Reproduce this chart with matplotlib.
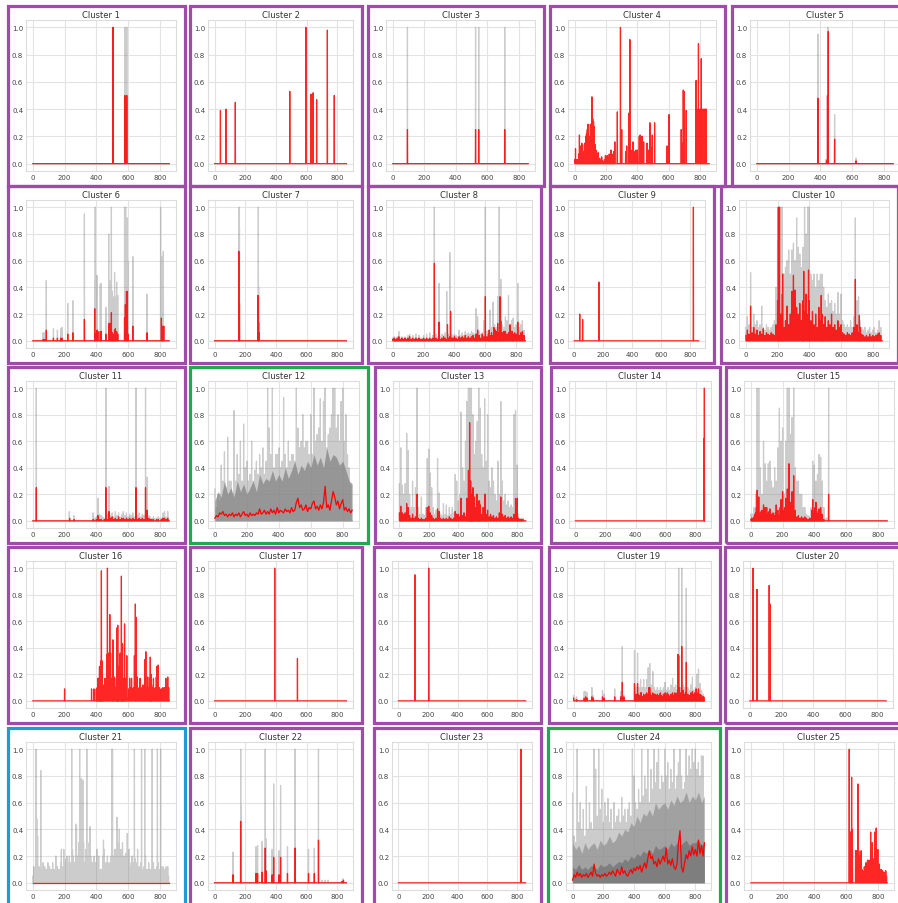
import numpy as np
import matplotlib
matplotlib.use("Agg")
import matplotlib.pyplot as plt
from matplotlib.patches import Rectangle

N = 860  # length of every series

# ---- data: (x, height) spikes, runs are (start, step, values) ----
grey_01 = [(505, 1.0), (580, 1.0), (592, 1.0)]
red_01 = [(505, 1.0), (580, 0.5), (592, 0.5)]

red_02 = [(38, 0.39), (75, 0.40), (135, 0.45), (490, 0.53), (595, 1.0),
          (628, 0.51), (642, 0.52), (665, 0.47), (735, 0.98), (780, 0.50)]

grey_03 = [(93, 1.0), (525, 1.0), (545, 1.0), (710, 1.0)]
red_03 = [(93, 0.25), (525, 0.25), (545, 0.25), (710, 0.25)]

red_04 = [(272, 0.38), (292, 1.0), (300, 0.25), (325, 0.09), (332, 0.13), (345, 0.37),
          (352, 0.91), (360, 0.1), (372, 0.16), (378, 0.09), (392, 0.1), (400, 0.1),
          (412, 0.2), (418, 0.21), (425, 0.2), (432, 0.2), (440, 0.16), (462, 0.15),
          (472, 0.1), (480, 0.3), (488, 0.12), (495, 0.21), (510, 0.3), (590, 0.13),
          (602, 0.36), (680, 0.25), (685, 0.15), (693, 0.54), (700, 0.53), (712, 0.39),
          (775, 0.61), (782, 0.4), (790, 0.88), (800, 0.4), (808, 0.77), (815, 0.4),
          (823, 0.4), (830, 0.4), (835, 0.4), (840, 0.4)]
red_04_a = [0.03, 0.11, 0.03, 0.03, 0.02, 0.07, 0.21, 0.13, 0.06, 0.15, 0.14, 0.09, 0.07,
            0.15, 0.2, 0.22, 0.25, 0.29, 0.2, 0.12, 0.29, 0.15, 0.49, 0.33, 0.31, 0.27,
            0.14, 0.1, 0.08, 0.05, 0.08, 0.03, 0.04]
red_04_b = [0.03, 0.02, 0.05, 0.02, 0.01, 0.03, 0.06, 0.05, 0.06, 0.04, 0.07, 0.05, 0.1,
            0.06, 0.07, 0.09, 0.16]

grey_05 = [(385, 0.95), (435, 0.03), (448, 1.0), (490, 0.36), (625, 0.04)]
red_05 = [(385, 0.48), (440, 0.02), (445, 0.5), (450, 0.97), (490, 0.18), (625, 0.02)]

grey_06 = [(65, 0.06), (72, 0.06), (85, 0.45), (130, 0.09), (155, 0.08), (175, 0.09),
           (183, 0.10), (220, 0.28), (252, 0.30), (325, 0.95), (390, 0.45), (393, 1.0),
           (405, 0.49), (425, 0.42), (430, 0.43), (460, 0.25), (478, 0.8), (485, 0.45),
           (495, 1.0), (500, 0.37), (505, 0.33), (515, 0.51), (525, 0.33), (528, 0.44),
           (535, 0.34), (578, 1.0), (585, 1.0), (590, 0.73), (595, 0.92), (598, 0.6),
           (630, 0.63), (720, 0.35), (805, 1.0), (812, 0.63), (822, 0.67)]
red_06 = [(65, 0.01), (75, 0.01), (85, 0.08), (130, 0.02), (155, 0.02), (175, 0.02),
          (183, 0.02), (220, 0.05), (252, 0.06), (325, 0.16), (390, 0.24), (395, 0.05),
          (405, 0.08), (410, 0.07), (425, 0.07), (430, 0.07), (460, 0.05), (480, 0.13),
          (485, 0.13), (495, 0.21), (500, 0.06), (505, 0.05), (515, 0.08), (520, 0.09),
          (528, 0.07), (535, 0.05), (578, 0.17), (583, 0.27), (590, 0.37), (595, 0.37),
          (600, 0.05), (630, 0.11), (720, 0.06), (810, 0.17), (815, 0.11), (825, 0.11)]

grey_07 = [(160, 1.0), (162, 0.84), (285, 1.0), (287, 0.4)]
red_07 = [(158, 0.67), (162, 0.28), (283, 0.34), (287, 0.14), (290, 0.06)]

grey_08_run = [0.02, 0.03, 0.02, 0.03, 0.07, 0.02, 0.03, 0.02, 0.03, 0.02,
               0.04, 0.05, 0.02, 0.04, 0.02, 0.05, 0.02, 0.04, 0.02, 0.02,
               0.04, 0.02, 0.05, 0.02, 0.06, 0.02, 0.04, 1.0, 0.05, 0.03,
               0.43, 0.03, 0.05, 0.04, 0.06, 0.37, 0.05, 0.66, 0.05, 0.04,
               0.05, 0.04, 0.03, 0.08, 0.04, 0.06, 0.04, 0.07, 0.05, 0.06,
               0.05, 0.07, 0.06, 0.05, 0.24, 0.18, 0.07, 0.05, 0.06, 0.15,
               1.0, 0.07, 0.08, 0.23, 0.1, 0.29, 0.12, 0.1, 0.33, 1.0,
               0.46, 0.12, 0.1, 0.18, 0.15, 0.34, 0.12, 0.15, 0.17, 0.1,
               0.12, 0.43, 0.1, 0.12, 0.15, 0.08]
red_08_run = [0.01, 0.02, 0.01, 0.02, 0.03, 0.01, 0.02, 0.01, 0.02, 0.01,
              0.02, 0.03, 0.01, 0.02, 0.01, 0.02, 0.01, 0.02, 0.01, 0.01,
              0.02, 0.01, 0.02, 0.01, 0.02, 0.01, 0.02, 0.03, 0.02, 0.01,
              0.02, 0.01, 0.02, 0.03, 0.02, 0.01, 0.02, 0.03, 0.02, 0.02,
              0.03, 0.02, 0.01, 0.03, 0.02, 0.03, 0.02, 0.04, 0.02, 0.03,
              0.02, 0.03, 0.04, 0.02, 0.05, 0.03, 0.04, 0.02, 0.05, 0.03,
              0.04, 0.03, 0.05, 0.04, 0.06, 0.04, 0.05, 0.07, 0.05, 0.06,
              0.04, 0.06, 0.05, 0.07, 0.05, 0.06, 0.04, 0.07, 0.05, 0.06,
              0.05, 0.06, 0.04, 0.05, 0.06, 0.04]
red_08 = [(270, 0.58), (300, 0.14), (355, 0.12), (375, 0.22), (545, 0.05), (550, 0.08),
          (600, 0.33), (625, 0.08), (655, 0.10), (665, 0.08), (680, 0.13), (695, 0.33),
          (700, 0.15), (720, 0.07), (740, 0.05), (760, 0.12), (775, 0.07), (790, 0.05),
          (810, 0.14), (830, 0.06), (840, 0.07)]

red_09 = [(38, 0.20), (58, 0.16), (170, 0.44), (822, 1.0)]

grey_10_run = [0.1, 0.18, 0.12, 0.15, 0.1, 0.2, 0.12, 0.15, 0.1, 0.12,
               0.26, 0.1, 0.08, 0.12, 0.1, 0.08, 0.1, 0.12, 0.15, 0.4,
               0.75, 1.0, 0.6, 1.0, 0.5, 0.55, 0.6, 0.68, 0.5, 0.68,
               0.73, 0.6, 0.92, 0.7, 0.65, 0.55, 0.7, 1.0, 0.8, 1.0,
               0.9, 0.5, 0.45, 0.5, 0.4, 0.5, 0.45, 0.5, 0.5, 0.4,
               0.3, 0.25, 0.35, 0.28, 0.3, 0.22, 0.28, 0.2, 0.36, 0.2,
               0.35, 0.15, 0.12, 0.1, 0.12, 0.1, 0.15, 0.1, 0.18, 0.92,
               0.3, 0.33, 0.15, 0.1, 0.08, 0.1, 0.06, 0.08, 0.1, 0.06,
               0.08, 0.1, 0.06, 0.08, 0.15, 0.1]
grey_10 = [(30, 0.51), (205, 1.0), (215, 1.0), (225, 1.0), (370, 1.0), (395, 1.0), (400, 1.0)]
red_10_run = [0.04, 0.08, 0.05, 0.09, 0.06, 0.1, 0.05, 0.08, 0.04, 0.07,
              0.05, 0.09, 0.04, 0.06, 0.05, 0.04, 0.06, 0.05, 0.04, 0.12,
              0.3, 0.5, 0.2, 0.35, 0.1, 0.15, 0.26, 0.12, 0.2, 0.15,
              0.3, 0.18, 0.25, 0.2, 0.28, 0.15, 0.3, 0.22, 0.35, 0.2,
              0.3, 0.15, 0.22, 0.12, 0.2, 0.1, 0.25, 0.15, 0.2, 0.12,
              0.18, 0.1, 0.15, 0.12, 0.2, 0.1, 0.12, 0.08, 0.15, 0.1,
              0.12, 0.06, 0.05, 0.04, 0.06, 0.05, 0.04, 0.06, 0.1, 0.08,
              0.12, 0.06, 0.1, 0.05, 0.04, 0.03, 0.04, 0.03, 0.05, 0.03,
              0.04, 0.03, 0.04, 0.05, 0.06, 0.04]
red_10 = [(30, 0.26), (205, 1.0), (212, 1.0), (232, 0.5), (290, 0.37), (300, 0.49),
          (310, 0.38), (365, 0.52), (395, 0.53), (475, 0.34), (690, 0.46), (715, 0.19)]

grey_11 = [(22, 1.0), (230, 0.07), (258, 0.04)]
grey_11_run = [0.06, 0.02, 0.03, 0.17, 0.05, 0.04, 0.03, 0.02, 1.0, 0.05, 0.26, 0.04,
               0.06, 0.03, 0.07, 0.04, 0.06, 0.03, 0.05, 0.07, 0.04, 0.06, 0.03, 0.05,
               0.04, 0.06, 0.03, 1.0, 0.04, 0.06, 0.03, 0.05, 0.04, 1.0, 0.33, 0.04,
               0.03, 0.02, 0.03, 0.02, 0.02, 0.03, 0.02, 0.02, 0.06, 0.07, 0.03, 0.07, 0.02]
red_11 = [(22, 0.25), (232, 0.02), (260, 0.01)]
red_11_run = [0.01, 0.0, 0.01, 0.04, 0.01, 0.01, 0.0, 0.01, 0.25, 0.01, 0.07, 0.02,
              0.03, 0.01, 0.02, 0.01, 0.03, 0.01, 0.02, 0.02, 0.01, 0.02, 0.01, 0.02,
              0.01, 0.02, 0.01, 0.25, 0.01, 0.02, 0.01, 0.02, 0.01, 0.25, 0.08, 0.02,
              0.01, 0.01, 0.01, 0.0, 0.01, 0.01, 0.0, 0.01, 0.02, 0.02, 0.01, 0.02, 0.01]

band_12 = [0.15, 0.22, 0.18, 0.3, 0.2, 0.25, 0.18, 0.3, 0.22, 0.28,
           0.2, 0.25, 0.3, 0.22, 0.35, 0.28, 0.32, 0.3, 0.38, 0.3,
           0.35, 0.3, 0.4, 0.32, 0.38, 0.45, 0.35, 0.42, 0.38, 0.45,
           0.4, 0.5, 0.42, 0.48, 0.4, 0.55, 0.45, 0.5, 0.48, 0.42,
           0.45, 0.38, 0.3, 0.28]
grey_12_run = [0.24, 0.1, 0.2, 0.15, 0.42, 0.3, 0.52, 0.25, 0.63, 0.3,
               0.3, 0.2, 0.83, 0.3, 0.5, 0.35, 0.6, 0.3, 0.73, 0.4,
               0.45, 0.3, 0.35, 0.6, 0.3, 0.38, 0.45, 0.35, 0.5, 0.4,
               0.55, 0.35, 0.45, 1.0, 0.7, 0.5, 1.0, 0.4, 0.5, 0.5,
               0.55, 0.4, 0.45, 0.93, 0.5, 0.4, 0.6, 0.45, 0.5, 0.5,
               0.45, 1.0, 0.7, 0.55, 0.6, 0.8, 0.55, 0.6, 0.6, 0.5,
               0.8, 0.5, 1.0, 0.6, 0.65, 0.7, 0.92, 0.6, 0.9, 1.0,
               0.55, 0.65, 0.7, 0.8, 1.0, 1.0, 0.7, 0.8, 0.6, 0.9,
               1.0, 0.6, 0.8, 0.5, 0.4, 0.27]
red_line_12 = [0.02, 0.04, 0.03, 0.06, 0.05, 0.07, 0.04, 0.05, 0.03, 0.05,
               0.04, 0.06, 0.03, 0.05, 0.04, 0.06, 0.03, 0.05, 0.07, 0.04,
               0.05, 0.03, 0.06, 0.04, 0.05, 0.04, 0.06, 0.05, 0.09, 0.05,
               0.06, 0.08, 0.05, 0.07, 0.05, 0.09, 0.06, 0.08, 0.05, 0.1,
               0.06, 0.08, 0.07, 0.06, 0.09, 0.07, 0.08, 0.06, 0.1, 0.07,
               0.08, 0.14, 0.17, 0.1, 0.12, 0.08, 0.09, 0.12, 0.07, 0.1,
               0.09, 0.13, 0.15, 0.09, 0.11, 0.08, 0.12, 0.09, 0.14, 0.26,
               0.1, 0.12, 0.08, 0.15, 0.22, 0.18, 0.12, 0.15, 0.09, 0.13,
               0.16, 0.08, 0.1, 0.07, 0.09, 0.06, 0.08]

grey_13_run = [0.28, 0.55, 0.27, 0.2, 0.28, 0.66, 0.53, 0.2, 0.1, 0.3,
               0.1, 0.25, 1.0, 0.1, 0.05, 0.18, 0.05, 0.04, 0.1, 0.47,
               0.54, 0.36, 0.25, 0.1, 0.05, 0.08, 0.47, 0.21, 0.05, 0.04,
               0.13, 0.05, 0.12, 0.04, 0.1, 0.05, 0.1, 0.06, 0.35, 0.3,
               0.15, 0.2, 0.82, 0.4, 0.3, 0.6, 0.9, 1.0, 1.0, 1.0,
               0.8, 0.5, 0.6, 0.75, 1.0, 0.85, 0.5, 0.4, 0.92, 0.45,
               0.8, 0.3, 0.25, 0.4, 0.3, 0.2, 0.15, 0.45, 0.2, 0.9,
               0.3, 0.15, 0.2, 0.12, 0.15, 0.1, 0.12, 0.1, 0.8, 0.83,
               0.42, 0.05, 0.02, 0.02, 0.02, 0.0]
red_13_run = [0.06, 0.11, 0.06, 0.05, 0.06, 0.13, 0.1, 0.04, 0.02, 0.05,
              0.02, 0.03, 0.2, 0.02, 0.01, 0.02, 0.01, 0.01, 0.02, 0.1,
              0.11, 0.06, 0.04, 0.02, 0.01, 0.02, 0.09, 0.07, 0.02, 0.01,
              0.02, 0.01, 0.02, 0.01, 0.03, 0.02, 0.01, 0.02, 0.07, 0.05,
              0.05, 0.03, 0.17, 0.04, 0.06, 0.03, 0.17, 0.38, 0.3, 0.2,
              0.25, 0.18, 0.1, 0.2, 0.15, 0.12, 0.05, 0.1, 0.2, 0.05,
              0.08, 0.03, 0.05, 0.03, 0.04, 0.02, 0.03, 0.02, 0.06, 0.18,
              0.05, 0.03, 0.04, 0.02, 0.03, 0.02, 0.03, 0.02, 0.05, 0.17,
              0.1, 0.02, 0.01, 0.01, 0.01, 0.0]
red_13 = [(478, 0.74), (485, 0.3), (495, 0.15), (505, 0.12), (525, 0.2), (545, 0.15),
          (585, 0.2), (802, 0.17)]

red_14 = [(855, 0.62), (858, 1.0)]

grey_15_run = [0.05, 0.05, 0.1, 0.2, 1.0, 1.0, 0.4, 0.2, 0.6, 0.43,
               0.3, 0.43, 0.45, 0.3, 0.25, 0.4, 0.3, 0.55, 0.85, 0.6,
               0.7, 0.2, 0.6, 1.0, 1.0, 0.65, 0.78, 1.0, 0.4, 0.3,
               0.3, 0.2, 0.2, 0.1, 0.1, 0.05, 0.04, 0.03, 0.1, 0.45,
               0.42, 0.3, 0.35, 0.5, 0.48, 0.3, 0.1, 0.02, 0.02, 1.0]
red_15_run = [0.01, 0.01, 0.03, 0.06, 0.23, 0.18, 0.06, 0.08, 0.12, 0.1,
              0.1, 0.06, 0.09, 0.05, 0.06, 0.04, 0.12, 0.08, 0.04, 0.16,
              0.22, 0.08, 0.17, 0.24, 0.43, 0.14, 0.22, 0.34, 0.08, 0.03,
              0.04, 0.02, 0.03, 0.02, 0.03, 0.02, 0.01, 0.02, 0.02, 0.16,
              0.07, 0.14, 0.05, 0.09, 0.1, 0.05, 0.01, 0.0, 0.0, 0.2]
red_15_run_b = [0.02, 0.02, 0.05, 0.1, 0.12, 0.05, 0.07, 0.05, 0.08, 0.06,
                0.05, 0.07, 0.04, 0.05, 0.03, 0.06, 0.05, 0.03, 0.1, 0.12,
                0.06, 0.1, 0.15, 0.2, 0.12, 0.1, 0.15, 0.05, 0.02, 0.02,
                0.01, 0.02, 0.01, 0.01, 0.01, 0.01, 0.01, 0.01, 0.08, 0.05,
                0.1, 0.04, 0.07, 0.06, 0.03, 0.01, 0.0, 0.0]

red_16 = [(200, 0.09), (370, 0.09), (385, 0.09), (410, 0.17), (420, 0.26), (428, 0.3),
          (432, 0.98), (438, 0.3), (465, 0.35), (470, 1.0), (478, 0.36), (485, 0.65),
          (490, 0.36), (505, 0.46), (530, 0.55), (535, 0.57), (540, 0.26), (550, 0.36),
          (558, 0.94), (565, 0.43), (578, 0.58), (592, 0.34), (640, 0.34), (646, 0.73),
          (650, 0.63), (705, 0.31), (712, 0.37), (740, 0.33), (746, 0.2), (782, 0.26),
          (790, 0.27), (850, 0.18)]
red_16_run = [0.09, 0.1, 0.17, 0.12, 0.1, 0.15, 0.09, 0.1, 0.12, 0.17,
              0.1, 0.09, 0.17, 0.18, 0.1, 0.09, 0.17, 0.1, 0.12, 0.18,
              0.1, 0.17, 0.09, 0.1, 0.18, 0.17, 0.1, 0.12, 0.17, 0.09,
              0.1, 0.17, 0.09, 0.02, 0.09, 0.17, 0.1, 0.17, 0.09, 0.1,
              0.17, 0.09, 0.1, 0.18, 0.09, 0.1, 0.17, 0.09, 0.1, 0.12,
              0.09, 0.17, 0.1, 0.09, 0.18, 0.1, 0.17, 0.09, 0.12, 0.1,
              0.17, 0.09, 0.1, 0.18, 0.09, 0.17, 0.1, 0.02, 0.09, 0.09,
              0.1, 0.09, 0.1, 0.17, 0.1, 0.18, 0.1]

red_17 = [(392, 1.0), (540, 0.32)]

red_18 = [(112, 0.95), (205, 1.0)]

grey_19_run = [0.04, 0.02, 0.03, 0.0, 0.0, 0.0, 0.0, 0.07, 0.07, 0.06,
               0.0, 0.0, 0.1, 0.04, 0.0, 0.0, 0.0, 0.0, 0.0, 0.08,
               0.05, 0.0, 0.0, 0.0, 0.0, 0.0, 0.0, 0.09, 0.0, 0.0,
               0.0, 0.07, 0.41, 0.04, 0.0, 0.0, 0.0, 0.0, 0.0, 0.0,
               0.38, 0.1, 0.36, 0.1, 0.16, 0.1, 0.16, 0.1, 0.16, 0.25,
               0.28, 0.12, 0.22, 0.1, 0.08, 0.1, 0.08, 0.1, 0.08, 0.1,
               0.14, 0.08, 0.1, 0.08, 0.12, 0.17, 0.1, 0.12, 0.08, 1.0,
               0.1, 1.0, 0.12, 0.1, 0.85, 0.1, 0.08, 0.12, 0.18, 0.08,
               0.1, 0.2, 0.24, 0.13, 0.08, 0.05]
red_19_run = [0.02, 0.0, 0.01, 0.0, 0.0, 0.0, 0.0, 0.02, 0.03, 0.02,
              0.0, 0.0, 0.03, 0.02, 0.0, 0.0, 0.0, 0.0, 0.0, 0.03,
              0.02, 0.0, 0.0, 0.0, 0.0, 0.0, 0.0, 0.03, 0.0, 0.0,
              0.0, 0.03, 0.14, 0.03, 0.0, 0.0, 0.0, 0.0, 0.0, 0.0,
              0.13, 0.05, 0.13, 0.04, 0.06, 0.03, 0.05, 0.04, 0.06, 0.05,
              0.1, 0.04, 0.06, 0.05, 0.03, 0.05, 0.04, 0.06, 0.03, 0.05,
              0.06, 0.04, 0.05, 0.03, 0.05, 0.06, 0.04, 0.05, 0.06, 0.34,
              0.06, 0.41, 0.08, 0.05, 0.29, 0.05, 0.04, 0.06, 0.07, 0.05,
              0.04, 0.06, 0.09, 0.05, 0.04, 0.03]
red_19_run_b = [0.04, 0.03, 0.05, 0.04, 0.06, 0.03, 0.04, 0.05, 0.03, 0.1,
                0.05, 0.04, 0.03, 0.05, 0.04, 0.03, 0.05, 0.04, 0.03, 0.05,
                0.04, 0.06, 0.04, 0.03, 0.05, 0.04, 0.06, 0.05, 0.35, 0.1,
                0.05, 0.04, 0.05, 0.06, 0.04, 0.03, 0.04, 0.05, 0.03, 0.06,
                0.09, 0.05, 0.04, 0.03, 0.02, 0.03]

red_20 = [(20, 1.0), (45, 0.84), (122, 0.87), (128, 0.73)]

grey_21 = [(20, 1.0), (25, 0.48), (30, 0.35), (50, 0.84), (180, 0.25), (210, 0.18),
           (245, 1.0), (270, 0.44), (275, 0.43), (295, 1.0), (305, 0.78), (315, 0.77),
           (340, 1.0), (360, 0.42), (445, 0.32), (498, 1.0), (502, 1.0), (530, 0.49),
           (545, 0.4), (595, 0.37), (640, 1.0), (685, 1.0), (705, 1.0), (752, 1.0),
           (785, 1.0), (805, 1.0)]
grey_21_run = [0.05, 0.08, 0.1, 0.06, 0.1, 0.08, 0.05, 0.08, 0.06, 0.1,
               0.12, 0.06, 0.05, 0.03, 0.02, 0.03, 0.02, 0.05, 0.1, 0.08,
               0.12, 0.18, 0.15, 0.2, 0.12, 0.25, 0.15, 0.22, 0.2, 0.3,
               0.25, 0.2, 0.3, 0.15, 0.25, 0.12, 0.1, 0.08, 0.1, 0.05,
               0.08, 0.06, 0.05, 0.1, 0.2, 0.25, 0.15, 0.2, 0.15, 0.2,
               0.3, 0.2, 0.25, 0.15, 0.2, 0.1, 0.15, 0.12, 0.2, 0.15,
               0.2, 0.12, 0.15, 0.1, 0.2, 0.15, 0.25, 0.12, 0.15, 0.1,
               0.12, 0.2, 0.1, 0.15, 0.1, 0.12, 0.15, 0.1, 0.12, 0.15,
               0.1, 0.12, 0.12, 0.1, 0.12, 0.12]

grey_22 = [(120, 0.23), (170, 1.0), (172, 0.58), (270, 0.27), (280, 0.28), (310, 0.31),
           (330, 1.0), (335, 0.33), (375, 0.25), (385, 0.74), (420, 0.24), (430, 0.73),
           (475, 0.27), (525, 1.0), (612, 0.25), (650, 0.26), (677, 1.0), (700, 0.02),
           (720, 0.02), (740, 0.02), (835, 0.03)]
red_22 = [(120, 0.06), (170, 0.46), (270, 0.07), (280, 0.07), (310, 0.08), (330, 0.26),
          (335, 0.09), (375, 0.06), (385, 0.19), (420, 0.06), (430, 0.19), (475, 0.07),
          (525, 0.26), (612, 0.07), (650, 0.07), (677, 0.32), (830, 0.01), (840, 0.02)]

red_23 = [(827, 1.0)]

band_24 = [0.3, 0.25, 0.28, 0.22, 0.3, 0.25, 0.28, 0.3, 0.25, 0.32,
           0.28, 0.3, 0.35, 0.3, 0.32, 0.38, 0.35, 0.4, 0.38, 0.45,
           0.42, 0.5, 0.45, 0.52, 0.5, 0.55, 0.5, 0.6, 0.55, 0.58,
           0.6, 0.55, 0.62, 0.58, 0.65, 0.6, 0.62, 0.68, 0.6, 0.65,
           0.62, 0.68, 0.6, 0.65]
band_24_dark = [0.12, 0.1, 0.14, 0.1, 0.12, 0.1, 0.13, 0.12, 0.1, 0.14,
                0.12, 0.13, 0.15, 0.12, 0.14, 0.16, 0.15, 0.18, 0.16, 0.2,
                0.18, 0.22, 0.2, 0.24, 0.22, 0.25, 0.22, 0.28, 0.25, 0.26,
                0.28, 0.25, 0.3, 0.27, 0.3, 0.28, 0.3, 0.32, 0.28, 0.3,
                0.3, 0.32, 0.28, 0.3]
grey_24_run = [0.67, 0.35, 0.3, 1.0, 0.45, 0.6, 0.4, 0.55, 0.35, 0.72,
               0.4, 0.6, 0.45, 0.4, 1.0, 0.85, 0.5, 1.0, 0.55, 0.7,
               0.45, 0.6, 0.5, 0.63, 0.45, 0.55, 0.4, 0.6, 0.45, 0.5,
               0.55, 0.45, 0.64, 0.5, 0.55, 0.45, 0.55, 0.6, 0.5, 1.0,
               0.8, 0.6, 0.55, 0.7, 0.6, 1.0, 0.65, 0.8, 0.7, 1.0,
               0.6, 0.85, 0.7, 1.0, 0.75, 0.9, 1.0, 0.7, 0.8, 0.75,
               1.0, 0.8, 0.9, 0.7, 0.85, 0.75, 1.0, 0.7, 0.8, 0.9,
               1.0, 0.8, 0.7, 0.75, 1.0, 0.8, 0.95, 0.85, 1.0, 0.9,
               1.0, 0.85, 0.9, 0.8, 0.95, 0.95]
red_line_24 = [0.02, 0.06, 0.04, 0.08, 0.05, 0.07, 0.04, 0.06, 0.05, 0.07,
               0.04, 0.06, 0.08, 0.05, 0.14, 0.07, 0.05, 0.06, 0.04, 0.06,
               0.05, 0.07, 0.05, 0.06, 0.08, 0.06, 0.09, 0.07, 0.05, 0.1,
               0.08, 0.06, 0.12, 0.07, 0.09, 0.06, 0.05, 0.08, 0.1, 0.07,
               0.11, 0.09, 0.12, 0.1, 0.13, 0.08, 0.12, 0.15, 0.11, 0.18,
               0.24, 0.18, 0.2, 0.14, 0.16, 0.12, 0.18, 0.14, 0.17, 0.2,
               0.16, 0.26, 0.14, 0.17, 0.13, 0.18, 0.12, 0.1, 0.14, 0.3,
               0.39, 0.12, 0.08, 0.15, 0.21, 0.18, 0.24, 0.2, 0.27, 0.21,
               0.25, 0.2, 0.32, 0.22, 0.28, 0.2, 0.3]

red_25_run = [1.0, 0.38, 0.38, 0.79, 0.4, 0.0, 0.0, 0.0, 0.24, 0.24,
              0.1, 0.74, 0.24, 0.2, 0.16, 0.24, 0.1, 0.06, 0.08, 0.12,
              0.06, 0.15, 0.1, 0.17, 0.12, 0.17, 0.1, 0.38, 0.2, 0.3,
              0.18, 0.12, 0.38, 0.2, 0.41, 0.1, 0.25, 0.08, 0.14, 0.05,
              0.1, 0.06, 0.09, 0.05, 0.08, 0.06, 0.09, 0.05, 0.07]

# border colour of each panel
PURPLE, GREEN, BLUE = "#9e4ca8", "#24a84b", "#1b9bd8"
border_colors = [PURPLE] * 25
border_colors[11] = GREEN
border_colors[23] = GREEN
border_colors[20] = BLUE

# ---- layout: border box of each panel in pixels (x0, x1), rows (y0, y1) ----
row_y = [(7, 187), (187, 364), (368, 544), (548, 724), (729, 906)]
col_x = [
    [(8, 185), (190, 362), (368, 544), (550, 725), (732, 909)],
    [(8, 185), (190, 362), (368, 541), (550, 714), (721, 898)],
    [(8, 185), (190, 368), (375, 541), (551, 720), (726, 903)],
    [(8, 185), (190, 362), (374, 541), (549, 720), (725, 902)],
    [(8, 185), (190, 362), (374, 541), (548, 720), (726, 903)],
]

clusters = [
    dict(grey=grey_01, red=red_01),
    dict(red=red_02),
    dict(grey=grey_03, red=red_03),
    dict(red=red_04, red_runs=[(0, 5, red_04_a), (160, 6, red_04_b)]),
    dict(grey=grey_05, red=red_05),
    dict(grey=grey_06, red=red_06),
    dict(grey=grey_07, red=red_07),
    dict(grey_runs=[(0, 10, grey_08_run)], red=red_08, red_runs=[(0, 10, red_08_run)]),
    dict(red=red_09),
    dict(grey=grey_10, grey_runs=[(0, 10, grey_10_run)], red=red_10,
         red_runs=[(0, 10, red_10_run)]),
    dict(grey=grey_11, grey_runs=[(380, 10, grey_11_run)], red=red_11,
         red_runs=[(380, 10, red_11_run)]),
    dict(bands=[(band_12, "#888888", 0.75)], grey_runs=[(0, 10, grey_12_run)],
         red_line=red_line_12),
    dict(grey_runs=[(0, 10, grey_13_run)], red=red_13, red_runs=[(0, 10, red_13_run)]),
    dict(red=red_14),
    dict(grey_runs=[(0, 10, grey_15_run)],
         red_runs=[(0, 10, red_15_run), (5, 10, red_15_run_b)]),
    dict(red=red_16, red_runs=[(400, 6, red_16_run)]),
    dict(red=red_17),
    dict(red=red_18),
    dict(grey_runs=[(0, 10, grey_19_run)],
         red_runs=[(0, 10, red_19_run), (405, 10, red_19_run_b)]),
    dict(red=red_20),
    dict(grey=grey_21, grey_runs=[(0, 10, grey_21_run), (5, 10, grey_21_run[::-1])], red=[]),
    dict(grey=grey_22, red=red_22),
    dict(red=red_23),
    dict(bands=[(band_24, "#9a9a9a", 0.7), (band_24_dark, "#707070", 0.8)],
         grey_runs=[(0, 10, grey_24_run)], red_line=red_line_24),
    dict(red_runs=[(620, 5, red_25_run)]),
]


def build_series(spikes, runs):
    arr = np.zeros(N)
    for x, h in spikes:
        arr[x] = max(arr[x], h)
    for start, step, vals in runs:
        for i, v in enumerate(vals):
            idx = start + i * step
            if idx < N:
                arr[idx] = max(arr[idx], v)
    return arr


W, H = 898, 904
fig = plt.figure(figsize=(W / 100, H / 100), dpi=100)
fig.patch.set_facecolor("white")
xs = np.arange(N)

for k, c in enumerate(clusters):
    r, col = divmod(k, 5)
    x0, x1 = col_x[r][col]
    y0, y1 = row_y[r]

    # axes inside the border
    ax = fig.add_axes([(x0 + 18) / W, 1 - (y1 - 15) / H,
                       (x1 - x0 - 27) / W, (y1 - y0 - 29) / H])
    ax.set_facecolor("white")
    ax.grid(True, color="#e3e3e3", lw=0.8)
    ax.set_axisbelow(True)
    for s in ax.spines.values():
        s.set_color("#dcdcdc")
        s.set_linewidth(0.8)

    for band, color, alpha in c.get("bands", []):
        bx = np.arange(len(band)) * 20
        bx[-1] = N - 1
        ax.fill_between(bx, 0, band, color=color, alpha=alpha, lw=0)

    if c.get("grey") or c.get("grey_runs"):
        g = build_series(c.get("grey", []), c.get("grey_runs", []))
        ax.plot(xs, g, color="grey", alpha=0.4, lw=0.9)

    if "red_line" in c:
        rx = np.arange(len(c["red_line"])) * 10
        rx[-1] = N - 1
        ax.plot(rx, c["red_line"], color="red", lw=0.9)
    else:
        m = build_series(c.get("red", []), c.get("red_runs", []))
        ax.plot(xs, m, color="red", alpha=0.85, lw=0.9)

    ax.set_xlim(-43, 902)
    ax.set_ylim(-0.054, 1.054)
    ax.set_xticks([0, 200, 400, 600, 800])
    ax.set_yticks([0.0, 0.2, 0.4, 0.6, 0.8, 1.0])
    ax.set_yticklabels(["0.0", "0.2", "0.4", "0.6", "0.8", "1.0"])
    ax.tick_params(length=0, labelsize=5, colors="#444444", pad=2)
    ax.set_title(f"Cluster {k + 1}", fontsize=6, color="#333333", pad=2.5)

    fig.add_artist(Rectangle((x0 / W, 1 - y1 / H), (x1 - x0) / W, (y1 - y0) / H,
                             transform=fig.transFigure, fill=False,
                             ec=border_colors[k], lw=2.3))

fig.savefig("out.png", dpi=100)
